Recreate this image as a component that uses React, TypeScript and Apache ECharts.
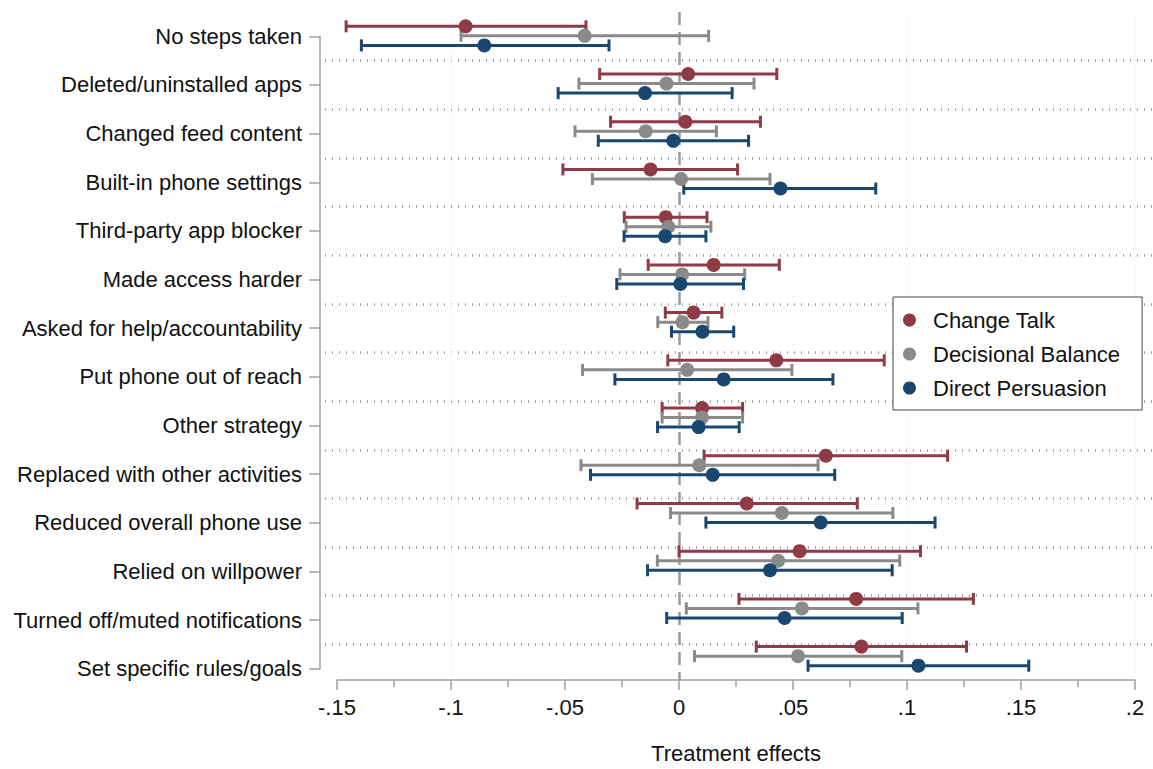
import { useEffect, useRef } from 'react';
import * as echarts from 'echarts';

const categories = [
  'No steps taken',
  'Deleted/uninstalled apps',
  'Changed feed content',
  'Built-in phone settings',
  'Third-party app blocker',
  'Made access harder',
  'Asked for help/accountability',
  'Put phone out of reach',
  'Other strategy',
  'Replaced with other activities',
  'Reduced overall phone use',
  'Relied on willpower',
  'Turned off/muted notifications',
  'Set specific rules/goals',
];

const xTicks = [-0.15, -0.1, -0.05, 0, 0.05, 0.1, 0.15, 0.2];

// Change Talk
const ctEst = [-0.0936, 0.004, 0.0028, -0.0125, -0.0058, 0.0152, 0.0064, 0.0427, 0.0101, 0.0644, 0.0297, 0.0529, 0.0777, 0.08];
const ctLo = [-0.146, -0.0348, -0.03, -0.0509, -0.024, -0.0135, -0.006, -0.0049, -0.0074, 0.011, -0.0184, 0.0, 0.0263, 0.0339];
const ctHi = [-0.0408, 0.0429, 0.0357, 0.0257, 0.0123, 0.044, 0.0188, 0.09, 0.0279, 0.1178, 0.0782, 0.1059, 0.1291, 0.1261];

// Decisional Balance
const dbEst = [-0.0414, -0.0055, -0.0146, 0.0009, -0.0047, 0.0014, 0.0015, 0.0036, 0.0101, 0.0089, 0.0451, 0.0435, 0.0539, 0.0522];
const dbLo = [-0.0956, -0.0439, -0.0456, -0.038, -0.0232, -0.0259, -0.0093, -0.0423, -0.0074, -0.043, -0.0037, -0.0095, 0.0032, 0.0068];
const dbHi = [0.013, 0.0329, 0.0164, 0.0399, 0.014, 0.0288, 0.0127, 0.0495, 0.0279, 0.061, 0.0938, 0.0968, 0.1048, 0.0977];

// Direct Persuasion
const dpEst = [-0.0854, -0.0149, -0.0025, 0.0445, -0.0061, 0.0006, 0.0103, 0.0196, 0.0086, 0.0148, 0.0621, 0.0399, 0.0463, 0.105];
const dpLo = [-0.1393, -0.053, -0.0354, 0.0021, -0.0241, -0.0273, -0.0033, -0.0281, -0.0094, -0.0388, 0.0118, -0.0138, -0.0054, 0.0566];
const dpHi = [-0.0307, 0.0233, 0.0305, 0.0863, 0.0118, 0.0283, 0.024, 0.0675, 0.0264, 0.0683, 0.1123, 0.0935, 0.0979, 0.1534];

const FONT = '"Liberation Sans", Arial, Helvetica, sans-serif';
const FS = 22;

const treatments = [
  { name: 'Change Talk', color: '#903a45', est: ctEst, lo: ctLo, hi: ctHi, offset: -0.2 },
  { name: 'Decisional Balance', color: '#8a8a8a', est: dbEst, lo: dbLo, hi: dbHi, offset: 0 },
  { name: 'Direct Persuasion', color: '#1a476f', est: dpEst, lo: dpLo, hi: dpHi, offset: 0.2 },
];

function fmtTick(v: number) {
  const s = String(+v.toFixed(2));
  return s.replace('0.', '.');
}

export default function App() {
  const chartRef = useRef<HTMLDivElement>(null);

  useEffect(() => {
    if (!chartRef.current) return;
    const chart = echarts.init(chartRef.current, null, { renderer: 'svg' });

    // plot grid: rows at -0.5..13.5, so each category centre sits on an integer
    const plotTop = 12;
    const plotHeight = 681;
    const rowH = plotHeight / categories.length;

    const series: any[] = [];

    treatments.forEach((t) => {
      series.push({
        type: 'custom',
        name: t.name + ' CI',
        xAxisIndex: 0,
        yAxisIndex: 0,
        encode: { x: [0, 1], y: 2 },
        data: t.lo.map((lo, i) => [lo, t.hi[i], i + t.offset]),
        z: 3,
        renderItem: (_params: any, api: any) => {
          const y = api.value(2);
          const a = api.coord([api.value(0), y]);
          const b = api.coord([api.value(1), y]);
          const h = 6;
          const style = { stroke: t.color, lineWidth: 3 };
          return {
            type: 'group',
            children: [
              { type: 'line', shape: { x1: a[0], y1: a[1], x2: b[0], y2: b[1] }, style },
              { type: 'line', shape: { x1: a[0], y1: a[1] - h, x2: a[0], y2: a[1] + h }, style },
              { type: 'line', shape: { x1: b[0], y1: b[1] - h, x2: b[0], y2: b[1] + h }, style },
            ],
          };
        },
      });
    });

    treatments.forEach((t, k) => {
      series.push({
        type: 'scatter',
        name: t.name,
        xAxisIndex: 0,
        yAxisIndex: 0,
        symbol: 'circle',
        symbolSize: 14,
        itemStyle: { color: t.color, opacity: 1 },
        data: t.est.map((v, i) => [v, i + t.offset]),
        z: 4,
        markLine:
          k === 0
            ? {
                silent: true,
                symbol: ['none', 'none'],
                label: { show: false },
                lineStyle: { color: '#9a9a9a', type: [13, 7], width: 2.5 },
                data: [{ xAxis: 0 }],
                z: 2,
              }
            : undefined,
      });
    });

    const option = {
      animation: false,
      backgroundColor: '#ffffff',
      textStyle: { fontFamily: FONT },
      legend: {
        data: treatments.map((t) => ({ name: t.name, icon: 'circle' })),
        orient: 'vertical',
        left: 893,
        top: 297,
        itemWidth: 13,
        itemHeight: 13,
        itemGap: 12,
        padding: [12, 22, 11, 10],
        borderColor: '#444444',
        borderWidth: 1,
        borderRadius: 0,
        backgroundColor: '#ffffff',
        textStyle: { fontSize: FS, color: '#111111', fontFamily: FONT, padding: [0, 0, 0, 12] },
        selectedMode: false,
      },
      grid: [
        { left: 337, right: 18, top: plotTop, height: plotHeight },
        { left: 320, width: 1, top: plotTop + rowH / 2, height: rowH * (categories.length - 1) },
        { left: 325, right: 0, top: plotTop + rowH, height: rowH * (categories.length - 2) },
      ],
      xAxis: [
        {
          type: 'value',
          gridIndex: 0,
          min: xTicks[0],
          max: xTicks[xTicks.length - 1],
          interval: 0.05,
          name: 'Treatment effects',
          nameLocation: 'middle',
          nameGap: 62,
          nameTextStyle: { fontSize: FS, color: '#111111', fontFamily: FONT },
          axisLine: { show: true, onZero: false, lineStyle: { color: '#a0a0a0', width: 1.5 } },
          axisTick: { show: true, length: 10, lineStyle: { color: '#a0a0a0', width: 1.5 } },
          minorTick: { show: true, splitNumber: 2, length: 7, lineStyle: { color: '#a0a0a0', width: 1.5 } },
          axisLabel: {
            fontSize: FS,
            color: '#111111',
            margin: 16,
            fontFamily: FONT,
            formatter: (v: number) => fmtTick(v),
          },
          splitLine: { show: true, lineStyle: { color: '#ececec', type: [1, 3], width: 1 } },
        },
        { type: 'value', gridIndex: 1, show: false, min: 0, max: 1 },
        { type: 'value', gridIndex: 2, show: false, min: 0, max: 1 },
      ],
      yAxis: [
        {
          type: 'value',
          gridIndex: 0,
          show: false,
          inverse: true,
          min: -0.5,
          max: categories.length - 0.5,
        },
        {
          type: 'category',
          gridIndex: 1,
          data: categories,
          inverse: true,
          boundaryGap: false,
          axisLine: { show: true, lineStyle: { color: '#a0a0a0', width: 1.5 } },
          axisTick: { show: true, length: 11, lineStyle: { color: '#a0a0a0', width: 1.5 } },
          axisLabel: { fontSize: FS, color: '#111111', margin: 18, fontFamily: FONT, interval: 0 },
          splitLine: { show: false },
        },
        {
          type: 'value',
          gridIndex: 2,
          min: 0,
          max: categories.length - 2,
          interval: 1,
          axisLine: { show: false },
          axisTick: { show: false },
          axisLabel: { show: false },
          splitLine: { show: true, lineStyle: { color: '#999999', type: [1, 6], width: 2.5 } },
        },
      ],
      series,
    };

    chart.setOption(option);
    return () => {
      chart.dispose();
    };
  }, []);

  return (
    <div
      ref={chartRef}
      style={{ position: 'fixed', left: 0, top: 0, width: '1153px', height: '769px' }}
    ></div>
  );
}
